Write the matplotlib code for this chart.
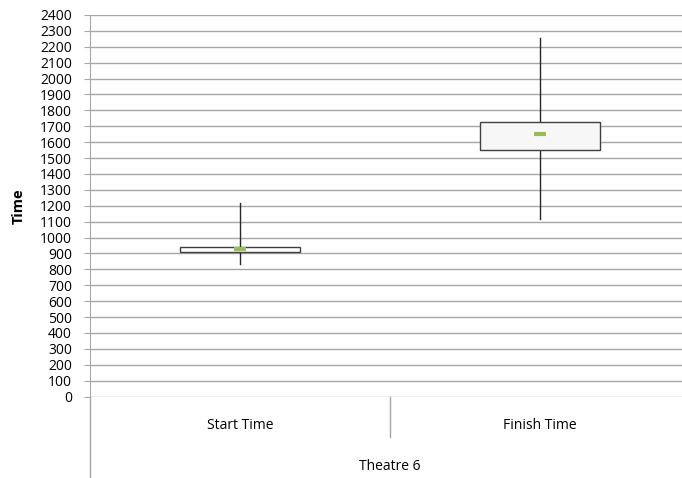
import numpy as np
import matplotlib
matplotlib.use("Agg")
import matplotlib.pyplot as plt
from matplotlib.lines import Line2D

plt.rcParams['font.family'] = ['Open Sans', 'DejaVu Sans']

# box plot summary per series
categories = ["Start Time", "Finish Time"]
q1 = [911, 1550]
median = [928, 1649]
q3 = [942, 1728]
whisker_low = [833, 1116]
whisker_high = [1215, 2253]
box_colors = ["#ffffff", "#f7f7f7"]
group_label = "Theatre 6"

fig = plt.figure(figsize=(6.82, 4.78), dpi=100)
ax = fig.add_axes([90 / 682, 81.5 / 478, 600 / 682, 381.5 / 478])

positions = np.arange(len(categories)) + 0.5
stats = []
for i, name in enumerate(categories):
    stats.append(dict(label=name, med=median[i], q1=q1[i], q3=q3[i],
                      whislo=whisker_low[i], whishi=whisker_high[i], fliers=[]))

bp = ax.bxp(stats, positions=positions, widths=0.4, showcaps=False,
            patch_artist=True, manage_ticks=False,
            boxprops=dict(edgecolor="#404040", linewidth=1.0),
            whiskerprops=dict(color="#262626", linewidth=1.0),
            medianprops=dict(linewidth=0))
for patch, c in zip(bp['boxes'], box_colors):
    patch.set_facecolor(c)
    patch.set_zorder(3)
for w in bp['whiskers']:
    w.set_zorder(2)

# short green median markers
ax.hlines(median, positions - 0.02, positions + 0.02, colors="#9bbb59",
          linewidth=3, zorder=4)

ax.set_xlim(0, 2)
ax.set_ylim(0, 2400)
ax.set_yticks(np.arange(0, 2401, 100))
ax.yaxis.grid(True, color="#a6a6a6", linewidth=1.0)
ax.set_axisbelow(True)
for s in ['top', 'right', 'bottom']:
    ax.spines[s].set_visible(False)
ax.spines['left'].set_color("#a6a6a6")
ax.tick_params(axis='y', length=4, color="#a6a6a6", labelsize=10,
               labelcolor="#000000", pad=9)
ax.set_xticks(positions)
ax.set_xticklabels(categories, fontsize=10)
ax.tick_params(axis='x', length=0, pad=15.5)
ax.set_ylabel("Time", fontsize=10.5, fontweight='bold', labelpad=10)
ax.set_xlabel(group_label, fontsize=10, labelpad=19)

# category axis lines below the plot
trans = ax.get_xaxis_transform()
lower = -82 / 381.5
ax.add_line(Line2D([0, 0], [0, lower], transform=trans, color="#a6a6a6",
                   linewidth=1.0, clip_on=False))
ax.add_line(Line2D([1, 1], [0, -40 / 381.5], transform=trans, color="#a6a6a6",
                   linewidth=1.0, clip_on=False))

fig.savefig("out.png", dpi=100)
